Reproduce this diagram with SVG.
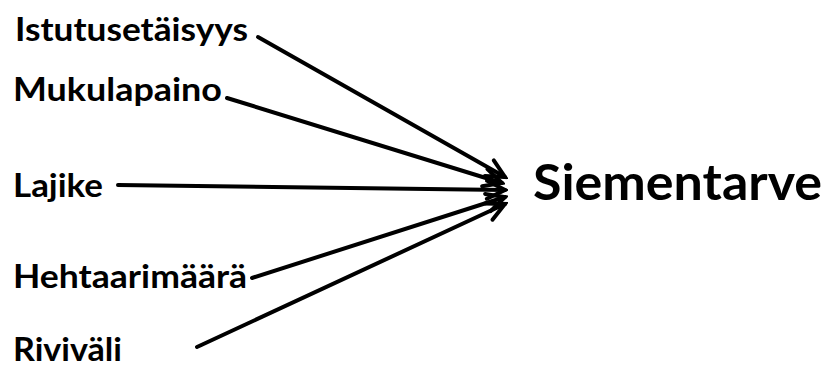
<svg xmlns="http://www.w3.org/2000/svg" width="832" height="367" viewBox="0 0 832 367">
<defs>
<style>
.lbl{font-family:Lato,"Open Sans","Liberation Sans",sans-serif;font-weight:bold;font-size:33px;fill:#000}
.big{font-family:Lato,"Open Sans","Liberation Sans",sans-serif;font-weight:bold;font-size:50px;fill:#000}
.ln{stroke:#000;stroke-width:4;fill:none;stroke-linecap:round}
</style>
<marker id="ah" viewBox="0 0 26 26" refX="23" refY="13" markerWidth="26" markerHeight="26" markerUnits="userSpaceOnUse" orient="auto">
<path d="M5,4 L23,13 L5,22" fill="none" stroke="#000" stroke-width="4" stroke-linejoin="miter" stroke-linecap="round"/>
</marker>
</defs>
<rect width="832" height="367" fill="#fff"/>
<g id="connectors">
<line class="ln" x1="258" y1="37" x2="505" y2="177" marker-end="url(#ah)"/>
<line class="ln" x1="227" y1="98" x2="502" y2="183" marker-end="url(#ah)"/>
<line class="ln" x1="118" y1="185" x2="505" y2="190" marker-end="url(#ah)"/>
<line class="ln" x1="252" y1="278" x2="505" y2="197" marker-end="url(#ah)"/>
<line class="ln" x1="197" y1="347" x2="505" y2="204" marker-end="url(#ah)"/>
</g>
<g id="n1"><text class="lbl" x="15" y="41" textLength="233" lengthAdjust="spacingAndGlyphs">Istutusetäisyys</text></g>
<g id="n2"><text class="lbl" x="13" y="101" textLength="209" lengthAdjust="spacingAndGlyphs">Mukulapaino</text></g>
<g id="n3"><text class="lbl" x="13" y="197" textLength="90" lengthAdjust="spacingAndGlyphs">Lajike</text></g>
<g id="n4"><text class="lbl" x="13" y="288" textLength="234" lengthAdjust="spacingAndGlyphs">Hehtaarimäärä</text></g>
<g id="n5"><text class="lbl" x="13" y="361" textLength="109" lengthAdjust="spacingAndGlyphs">Riviväli</text></g>
<g id="target"><text class="big" x="533" y="200" textLength="289" lengthAdjust="spacingAndGlyphs">Siementarve</text></g>
</svg>
